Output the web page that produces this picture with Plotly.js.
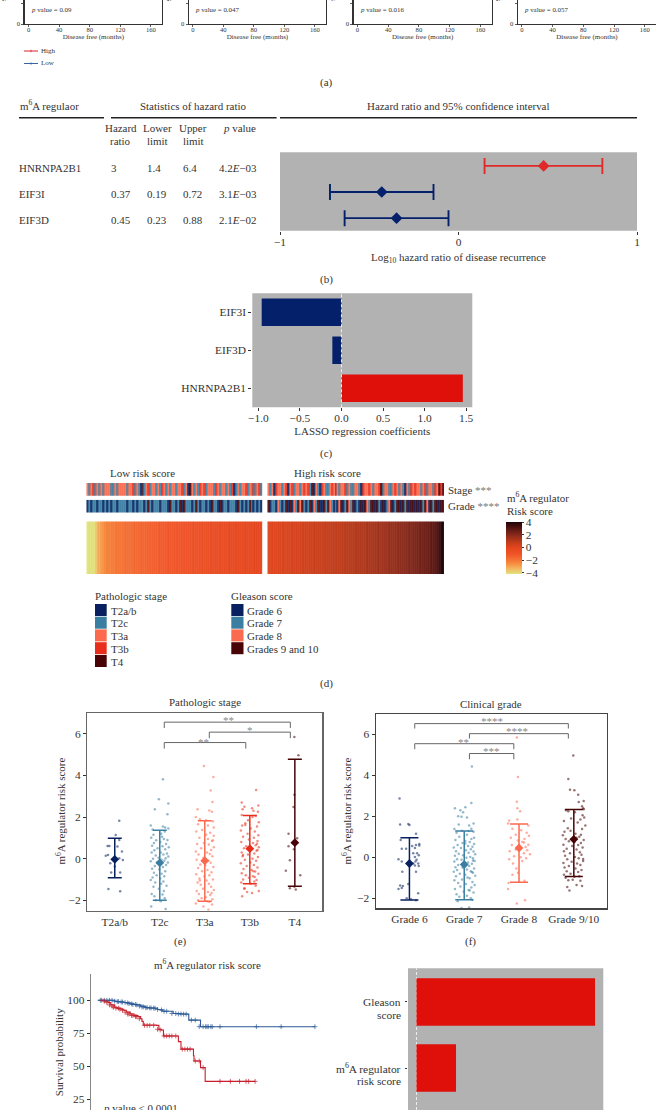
<!DOCTYPE html>
<html><head><meta charset="utf-8">
<script src="https://cdn.plot.ly/plotly-3.0.1.min.js"></script>
<style>html,body{margin:0;padding:0;background:#fff}</style></head>
<body><div id="g" style="width:656px;height:1110px"></div>
<script>
// ---------- panel (a)
const kmTicks=[0,40,80,120,160];
const kmPValues=['0.09','0.047','0.016','0.057'];
const kmHighT=[0,40,80,160], kmHighS=[100,80,60,45];
const kmLowT=[0,40,80,160], kmLowS=[100,92,80,70];
// ---------- panel (b)
const regulators=['EIF3D','EIF3I','HNRNPA2B1'];
const hrLog=[-0.347,-0.43,0.477], hrLow=[-0.638,-0.72,0.146], hrUp=[-0.056,-0.14,0.806];
const tableRows=[['HNRNPA2B1','3','1.4','6.4','4.2<i>E</i>−03'],['EIF3I','0.37','0.19','0.72','3.1<i>E</i>−03'],['EIF3D','0.45','0.23','0.88','2.1<i>E</i>−02']];
// ---------- panel (c)
const lassoGenes=['HNRNPA2B1','EIF3D','EIF3I'];
const lassoCoef=[1.46,-0.11,-0.96];
// ---------- panel (d)
const stageLow='32342323233322323333233423215234233232432323323342315323243423332432332324123233423242342';
const gradeLow='12122122121212212222122121222124212221222142212414222124212212142214122122214212124212121';
const stageHigh='32314332341342332343425132143223431323342322332143343233452332234323213243433234233243545';
const gradeHigh='41221321241413243421241324114243212134124324121414324414214123412441424144141424314244144';
const heatLow=[-4.2,-4.15,-4.1,-4.1,-3.6,-3.1,-2.8,-2.6,-2.4,-2.25,-2.2,-2.05,-2.1,-1.95,-1.9,-1.95,-1.85,-1.8,-1.75,-1.8,-1.7,-1.6,-1.65,-1.55,-1.5,-1.55,-1.45,-1.4,-1.45,-1.35,-1.3,-1.35,-1.25,-1.2,-1.25,-1.15,-1.1,-1.15,-1.05,-1.0,-1.05,-0.95,-0.9,-0.95,-0.85,-0.8,-0.85,-0.75,-0.7,-0.75,-0.65,-0.7,-0.6,-0.55,-0.6,-0.5,-0.55,-0.45,-0.5,-0.4,-0.45,-0.35,-0.4,-0.3,-0.35,-0.25,-0.3,-0.2,-0.25,-0.2,-0.15,-0.2,-0.1,-0.15,-0.1,-0.05,-0.1,-0.05];
const heatHigh=[0.05,0.1,0.05,0.15,0.1,0.2,0.15,0.25,0.2,0.3,0.25,0.35,0.3,0.4,0.35,0.45,0.4,0.5,0.45,0.55,0.5,0.6,0.6,0.65,0.6,0.7,0.7,0.75,0.7,0.8,0.85,0.8,0.9,0.85,0.95,0.95,1.0,1.05,1.0,1.1,1.1,1.15,1.2,1.15,1.25,1.3,1.3,1.35,1.4,1.4,1.5,1.45,1.55,1.6,1.6,1.7,1.75,1.7,1.8,1.85,1.95,1.9,2.0,2.05,2.1,2.15,2.25,2.3,2.35,2.4,2.5,2.55,2.6,2.7,2.8,2.95,3.1,3.3,3.65,4.0];
const heatScale=[[0,'#dfe47e'],[0.1,'#f4b862'],[0.22,'#f6853a'],[0.37,'#f1562a'],[0.51,'#e4451c'],[0.63,'#b93a1a'],[0.76,'#85281a'],[0.88,'#561411'],[1,'#1d0508']];
const stageNames=['T2a/b','T2c','T3a','T3b','T4'];
const stageColors=['#08205f','#3a7ea2','#fb6a4e','#e82d1c','#470306'];
const gradeNames=['Grade 6','Grade 7','Grade 8','Grades 9 and 10'];
const gradeColors=['#08205f','#3a7ea2','#fb6a4e','#470306'];
// ---------- panel (e)
const eCats=['T2a/b','T2c','T3a','T3b','T4'];
const eMean=[-0.03,-0.2,-0.1,0.48,0.77], eUp=[0.98,1.37,1.82,2.07,4.78], eLow=[-0.92,-2.0,-2.05,-1.2,-1.32];
const eX=[
[.10,.02,.10,-.16,-.12,.06,.16,-.15,-.2,0,.1,.18,-.1,0,-.08,.12,-.14,.12],
[.07,-.02,.19,-.11,.17,-.2,.07,.12,.19,-.16,.11,.03,-.14,.05,-.19,.09,.17,-.08,.01,-.13,.14,-.17,.06,.2,-.05,.12,-.12,.02,-.18,.16,.08,-.09,.19,-.03,.13,-.15,.04,.1,-.2,.18,-.06,.02,.14,-.11,.07,-.17,-.01,.12,-.13,.04,-.07,.1,-.16,.01,-.2,.08,-.1,.03,.15,-.14,-.02,.09,-.18,.06,-.12,.11,-.09,.02,-.19,.13],
[-.02,.19,.13,.17,-.16,.1,.16,-.2,-.11,.03,.18,-.15,.07,.2,-.06,-.19,.12,.03,.2,-.12,.07,.16,-.02,-.17,.09,.2,-.08,.14,-.2,.05,.11,-.14,.17,-.03,-.18,.08,.13,-.1,.01,.19,-.15,.06,-.06,.15,-.19,.1,-.01,-.12,.18,.04,-.16,.09,-.09,.14,-.04,.2,-.18,.07,-.13,.12,.02,-.07,.17,-.15,.05,.1,-.2,.16,-.03,.08,.15,-.11,.18],
[.14,-.18,.19,-.12,.05,-.16,.08,.18,-.18,.13,.06,.2,-.1,-.17,.16,.02,-.2,.11,-.05,.19,-.15,.09,-.02,.17,-.19,.07,.13,-.08,.2,-.13,.03,.15,-.18,.1,-.04,-.16,.18,.06,-.11,.14,.01,-.2,.09,-.07,.17,-.14,.04,.12,-.18,.19,-.09,.07,-.02,-.15,.15,.1,-.19,.02,.13,-.12,.2,-.06,.05,-.17,.16,-.1,.08,-.15,-.04,.11,.17,-.12],
[-.01,.08,-.01,-.03,-.14,.05,-.14,-.02,-.11,-.2,.12,-.01,-.11,.02,.03]];
const eY=[
[1.82,1.14,.9,.61,.61,.58,.35,.18,.14,-.06,.02,-.06,-.22,-.38,-.67,-.67,-1.46,-1.57],
[3.82,2.86,2.65,2.37,2.14,1.6,1.55,1.5,1.45,1.4,1.3,1.2,1.15,1.05,1.0,.95,.9,.88,.8,.75,.7,.62,.6,.55,.5,.45,.4,.3,.3,.25,.2,.15,.1,.05,.02,0,-.05,-.1,-.12,-.18,-.2,-.25,-.3,-.35,-.4,-.48,-.52,-.6,-.68,-.72,-.8,-.85,-.9,-.95,-1.02,-1.1,-1.15,-1.2,-1.3,-1.35,-1.45,-1.55,-1.7,-1.72,-1.8,-1.9,-2.0,-2.05,-2.3,-2.42],
[4.45,3.93,3.28,2.72,2.38,2.32,2.25,2.0,1.9,1.85,1.8,1.65,1.6,1.5,1.38,1.3,1.25,1.15,1.1,1.0,.95,.85,.75,.7,.68,.55,.5,.42,.35,.3,.22,.2,.12,.05,-.05,-.1,-.2,-.28,-.32,-.4,-.45,-.55,-.6,-.65,-.75,-.8,-.85,-.95,-1.0,-1.05,-1.15,-1.2,-1.25,-1.35,-1.45,-1.5,-1.55,-1.6,-1.7,-1.75,-1.85,-1.9,-1.95,-2.0,-2.05,-2.08,-2.15,-2.2,-2.3,-2.45,-1.65,-1.05,.88],
[3.3,2.7,2.55,2.5,2.42,2.38,2.3,2.25,2.1,2.05,2.0,1.75,1.7,1.6,1.55,1.45,1.35,1.3,1.2,1.12,1.05,1.0,.92,.85,.8,.75,.65,.6,.55,.5,.45,.38,.3,.25,.2,.12,.08,0,-.05,-.1,-.18,-.22,-.3,-.35,-.42,-.5,-.55,-.62,-.7,-.72,-.8,-.85,-.92,-1.0,-1.02,-1.1,-1.15,-1.2,-1.3,-1.45,-1.55,-1.6,-1.65,-1.8,.72,1.62,-.6,.18,1.85,-.88,.42,-1.42],
[5.85,4.97,3.07,2.48,1.2,.98,.6,.45,-.08,-.58,-.8,-1.35,-1.42,-1.48,.75]];
const eBrackets=[[1.1,3.9,6.56,6.28,6.28],[2.1,3.9,6.08,5.79,5.79],[1.1,2.91,5.58,5.29,5.29]];
const eStars=[['**',2.52,6.67],['*',3.0,6.2],['**',1.96,5.62]];
// ---------- panel (f)
const fCats=['Grade 6','Grade 7','Grade 8','Grade 9/10'];
const fMean=[-0.3,-0.35,0.46,0.88], fUp=[0.96,1.28,1.63,2.33], fLow=[-2.08,-2.07,-1.22,-0.94];
const fX=[
[-.18,-.02,.0,-.17,.12,-.16,.18,.12,.18,.05,.1,-.14,-.06,.14,.07,.17,.1,-.2,.13,-.14,.11,.07,.16,.1,.17,-.13,.12,-.02,-.12,-.17,-.14,.16,-.2,-.05,.03,.12],
[.14,.13,.02,-.17,-.07,-.02,-.11,-.05,.05,.17,-.1,.09,.13,-.18,-.04,.08,.17,-.14,.05,-.09,.18,.13,-.16,.02,.1,-.03,.18,-.12,.07,.15,-.19,-.06,.12,.03,-.15,.17,.08,-.1,.2,-.02,-.17,.11,.04,.16,-.13,-.05,.19,-.18,.07,.01,.14,-.11,.09,-.16,-.03,.18,.05,-.13,.12,-.19,.16,-.08,.02,.2,-.15,.06,.1,-.04,-.18,.15,-.11,.03,.19,-.07,.13,-.17,.08,-.01,.17,-.14,.05,-.09,.12,.15,-.12,.09,-.05,.16,.02,.14,.1],
[-.04,-.02,-.04,-.03,.02,-.03,-.18,-.2,.17,-.12,.04,.14,-.06,.18,-.15,.1,-.02,.06,.17,-.13,.12,.0,-.06,.15,-.17,.09,.2,-.09,.03,.13,-.18,.06,-.11,-.05,-.02,-.12,.1,-.19,-.2,.11,-.04,.09],
[-.01,-.1,-.07,.01,.08,.18,.09,.15,.17,.18,-.14,-.1,.02,.16,.19,-.05,.12,-.18,.07,.21,-.11,.15,-.06,-.17,.03,.13,-.2,.1,.05,-.15,.18,-.09,.01,.13,-.19,.08,-.03,.16,-.13,.05,-.18,.11,-.07,.14,-.16,.02,.09,-.12,.17,-.04,-.19,.06,.12,-.09,-.17,.03,.14,-.13,.08,-.06,-.18,.1,.01,-.15,-.02,.12,-.1,.05,.15,-.12,-.08,.17]];
const fY=[
[2.87,1.63,1.58,1.6,1.15,.85,.65,.6,.58,.55,.45,.42,.42,.2,.2,.1,.02,-.1,-.12,-.2,-.2,-.3,-.3,-.4,-.42,-.7,-.7,-1.3,-1.4,-1.38,-1.5,-1.75,-1.55,-2.0,-2.05,-2.1],
[4.43,2.65,2.45,2.4,2.3,2.2,2.0,1.98,1.95,1.65,1.6,1.55,1.4,1.38,1.3,1.28,1.25,1.2,1.1,1.0,.95,.9,.85,.8,.75,.7,.65,.6,.55,.52,.48,.45,.4,.35,.3,.28,.22,.18,.15,.1,.08,.02,-.02,-.05,-.1,-.12,-.18,-.2,-.25,-.3,-.32,-.38,-.42,-.48,-.5,-.55,-.6,-.62,-.68,-.7,-.75,-.8,-.85,-.9,-.92,-.98,-1.02,-1.08,-1.12,-1.2,-1.25,-1.3,-1.35,-1.42,-1.48,-1.55,-1.6,-1.68,-1.72,-1.8,-1.88,-1.92,-2.0,-2.08,-2.15,-2.45,-2.47,-.15,.68,-.72,-1.62],
[5.85,3.92,2.72,2.4,2.25,1.85,1.8,1.65,1.55,1.4,1.32,1.2,1.1,1.05,.95,.9,.82,.75,.62,.6,.5,.45,.38,.35,.3,.2,.15,.05,0,-.05,-.1,-.18,-.3,-.55,-.75,-.85,-1.15,-1.25,-1.55,-2.1,-2.25,.72],
[4.97,3.83,3.3,3.28,3.05,2.75,2.7,2.5,2.4,2.35,2.3,2.25,2.2,2.05,1.95,1.9,1.85,1.78,1.7,1.55,1.42,1.38,1.3,1.25,1.15,1.1,1.08,1.0,.95,.9,.85,.78,.75,.7,.62,.6,.55,.48,.42,.38,.3,.25,.2,.12,.08,.02,-.05,-.1,-.18,-.22,-.28,-.3,-.38,-.42,-.5,-.55,-.62,-.68,-.72,-.8,-.85,-.92,-.95,-1.0,-1.1,-1.15,-1.12,-1.35,-1.4,-1.45,-1.62,-.08]];
const fBrackets=[[.097,2.9,6.53,6.29,6.29],[1.095,2.9,6.04,5.8,5.8],[.097,1.905,5.55,5.28,5.28],[1.095,1.905,5.07,4.79,4.79]];
const fStars=[['****',1.5,6.65],['****',1.97,6.16],['**',.98,5.64],['***',1.5,5.17]];
// ---------- panel (g)
const survLowT=[0,6,12,13,15,17,20,22,25,28,30,33,36,37,40,44,46,48,50,56,58,64,69,70,77,79,167];
const survLowS=[100,100,100,99.3,99,98.7,98.3,98,97.3,96.8,96.5,95.6,95,94.4,94.2,94,93,92.7,91.7,91.7,90,89.6,89.5,85,85,80,80];
const survHighT=[3,5,8,10,13,15,18,20,22,25,28,31,33,34,35,45,47,49,50.5,61,62,64,71.5,73.6,74,78.7,79,82,82.6,121];
const survHighS=[100,99.3,98.2,96.5,94.7,94,93.2,92.4,91,89.6,88.5,87.6,86,84,81.3,81,78,77.5,73,73,68.7,63,63,58,54,54,49,49,38.6,38.6];
const censLowT=[2,5,7,9,11,13,15,16,18,19,21,23,24,26,27,29,30,32,34,35,37,38,40,41,43,44,46,49,51,53,57,60,62,64,66,68,72,75,78,81,83,84,85,87,88,94,122,141,167];
const censLowS=[100,100,100,100,100,99.3,99,99,98.7,98.7,98.3,98,97.5,97.3,96.8,96.8,96.5,95.6,95,95,94.4,94.4,94.2,94.2,94,94,93,92.7,91.7,91.7,90,90,89.6,89.6,89.5,89.5,85,85,80,80,80,80,80,80,80,80,80,80,80];
const censHighT=[3,5,7,9,11,12,14,16,17,19,21,23,24,26,27,29,30,32,36,38,40,43,46,48,51,53,55,57,60,65,67,69,71,75,78,81,94,102,109,114,116,121];
const censHighS=[100,99.3,98.2,96.5,95.5,94.7,94,94,93.2,92.4,91,89.6,89.6,88.5,88.5,87.6,87.6,86,81,81,81,81,78,77.5,73,73,73,73,73,63,63,63,63,54,54,49,38.6,38.6,38.6,38.6,38.6,38.6];
// ---------- panel (h)
const coxNames=['m<sup>6</sup>A regulator<br>risk score','Gleason<br>score'];
const coxCoef=[0.35,1.58];

const W=656,H=1110,FONT='"Liberation Serif","Times New Roman",serif',INK='#333',FS=10.95,TS=11.4;
const px=(a,b)=>[a/W,b/W], py=(t,b)=>[1-b/H,1-t/H];
const navy='#04206b',red='#df0f0a',gray='#b2b2b2';
const layout={width:W,height:H,margin:{l:0,r:0,t:0,b:0,pad:0},paper_bgcolor:'#fff',plot_bgcolor:'rgba(0,0,0,0)',showlegend:false,
 font:{family:FONT,color:INK,size:FS},annotations:[],shapes:[],hovermode:false};
const traces=[];
let axN=0;
function axes(d,xOpt,yOpt){axN++;const s=axN===1?'':axN;
 const base={showgrid:false,zeroline:false,automargin:false,fixedrange:true};
 layout['xaxis'+s]=Object.assign({},base,{domain:d[0],anchor:'y'+s},xOpt);
 layout['yaxis'+s]=Object.assign({},base,{domain:d[1],anchor:'x'+s},yOpt);
 return {x:'x'+s,y:'y'+s};}
function T(text,x,y,o={}){layout.annotations.push(Object.assign({text,x:x/W,y:1-y/H,xref:'paper',yref:'paper',xanchor:'left',yanchor:'middle',showarrow:false,align:'left',borderpad:0,borderwidth:0,font:{size:FS,color:INK,family:FONT}},o));}
function C(text,x,y,size=FS,extra={}){T(text,x,y,Object.assign({xanchor:'center',align:'center',font:{size,color:INK,family:FONT}},extra));}
function R(x0,y0,x1,y1,fill,line){layout.shapes.push({type:'rect',xref:'paper',yref:'paper',x0:x0/W,x1:x1/W,y0:1-y0/H,y1:1-y1/H,fillcolor:fill,line:line||{width:0},layer:'below'});}
function L(x0,y0,x1,y1,color,width){layout.shapes.push({type:'line',xref:'paper',yref:'paper',x0:x0/W,x1:x1/W,y0:1-y0/H,y1:1-y1/H,line:{color,width},layer:'below'});}

// (a)
[[24.7,162],[189,326],[353.6,491.6],[518,656]].forEach((p,i)=>{
 const a=axes([px(p[0],p[1]),py(0,24)],
  {range:[-5,174.6],tickvals:kmTicks,ticks:'outside',ticklen:2,tickwidth:.8,tickcolor:INK,tickfont:{size:6.6,color:INK},ticklabelstandoff:-3,showline:true,mirror:true,linecolor:'#333',linewidth:1.3,title:{text:'Disease free (months)',font:{size:7,color:INK},standoff:1}},
  {range:[0,29.4],tickvals:[0,25],ticks:'outside',ticklen:2,tickwidth:.8,tickcolor:INK,tickfont:{size:6.6,color:INK},showline:true,mirror:true,linecolor:'#333',linewidth:1.3});
 traces.push({x:kmHighT,y:kmHighS,xaxis:a.x,yaxis:a.y,mode:'lines',line:{color:'#d8232a',width:1,shape:'hv'}});
 traces.push({x:kmLowT,y:kmLowS,xaxis:a.x,yaxis:a.y,mode:'lines',line:{color:'#3a64a8',width:1,shape:'hv'}});
 T('<i>p</i> value = '+kmPValues[i],p[0]+6.3,9.3,{font:{size:6.9,color:INK,family:FONT}});
 T('Survival probability',p[0]-20.5,-27,{xanchor:'center',textangle:-90,font:{size:7,color:INK,family:FONT}});
});
L(24,51,38,51,'#d8232a',1);L(24,63.5,38,63.5,'#3a64a8',1);
L(31,49.8,31,52.2,'#d8232a',.8);L(31,62.3,31,64.7,'#3a64a8',.8);
T('High',41,51,{font:{size:7,color:INK,family:FONT}});T('Low',41,63.5,{font:{size:7,color:INK,family:FONT}});
C('(a)',326,82.5,11);

// (b)
L(19,117.7,104,117.7,'#222',1.4);L(111,117.7,276.6,117.7,'#222',1.4);L(280,117.7,637,117.7,'#222',1.4);
T('m<sup>6</sup>A regulaor',19.5,105);
C('Statistics of hazard ratio',193.7,105.7);
C('Hazard ratio and 95% confidence interval',458.6,105.7);
[['Hazard','ratio',120.5],['Lower','limit',157],['Upper','limit',193]].forEach(c=>{C(c[0],c[2],128.3);C(c[1],c[2],141.3);});
C('<i>p</i> value',239,128.3);
const colX=[19,111,147,183,219],rowY=[167.7,193.7,220];
tableRows.forEach((r,i)=>r.forEach((t,j)=>T(t,colX[j],rowY[i])));
R(280,152.3,637,230.7,gray);
{const a=axes([px(280,637),py(152.3,230.7)],
  {range:[-1,1],tickvals:[-1,0,1],ticks:'outside',ticklen:3,tickwidth:1,tickcolor:INK,tickfont:{size:TS,color:INK},ticklabelstandoff:-2,
   title:{text:'Log<sub>10</sub> hazard ratio of disease recurrence',font:{size:FS,color:INK},standoff:5}},
  {type:'category',categoryarray:regulators,range:[-0.48,2.52],showticklabels:false,ticks:''});
 regulators.forEach((g,i)=>{const col=hrLog[i]>0?'#e02a2a':navy;
  traces.push({x:[hrLog[i]],y:[g],xaxis:a.x,yaxis:a.y,type:'scatter',mode:'markers',marker:{symbol:'diamond',size:9,color:col},
   error_x:{type:'data',symmetric:false,array:[hrUp[i]-hrLog[i]],arrayminus:[hrLog[i]-hrLow[i]],color:col,thickness:1.9,width:8}});});}
C('(b)',326,279,11);

// (c)
R(252.3,293.3,472.3,407.3,gray);
{const a=axes([px(252.3,472.3),py(293.3,407.3)],
  {range:[-1.073,1.574],tickvals:[-1,-.5,0,.5,1,1.5],ticktext:['−1.0','−0.5','0.0','0.5','1.0','1.5'],ticks:'outside',ticklen:3,tickwidth:1,tickcolor:INK,tickfont:{size:TS,color:INK},ticklabelstandoff:-3,
   title:{text:'LASSO regression coefficients',font:{size:FS,color:INK},standoff:4}},
  {type:'category',categoryarray:lassoGenes,range:[-0.5,2.5],ticks:'outside',ticklen:3,tickwidth:1,tickcolor:INK,tickfont:{size:TS,color:INK}});
 traces.push({type:'bar',orientation:'h',x:lassoCoef,y:lassoGenes,xaxis:a.x,yaxis:a.y,width:.72,marker:{color:lassoCoef.map(v=>v>0?red:navy),line:{width:0}}});
 layout.shapes.push({type:'line',xref:a.x,yref:a.y+' domain',x0:0,x1:0,y0:0,y1:1,line:{color:'#eee',width:1,dash:'3px,2px'},layer:'above'});}
C('(c)',326,453,11);

// (d)
const stepped=(cols)=>{const n=cols.length,o=[];cols.forEach((c,i)=>{o.push([i/n,c]);o.push([(i+1)/n,c]);});return o;};
const digits=s=>s.split('').map(Number);
function strip(str,cols,x0,x1,y0,y1){const a=axes([px(x0,x1),py(y0,y1)],{visible:false},{visible:false});
 traces.push({type:'heatmap',z:[digits(str)],xaxis:a.x,yaxis:a.y,colorscale:stepped(cols),zmin:.5,zmax:cols.length+.5,showscale:false,xgap:.15});}
strip(stageLow,stageColors,86.3,262.7,483,495.7);
strip(stageHigh,stageColors,267.3,444,483,495.7);
strip(gradeLow,gradeColors,86.3,262.7,499.7,512.7);
strip(gradeHigh,gradeColors,267.3,444,499.7,512.7);
function heat(vals,x0,x1,scale){const a=axes([px(x0,x1),py(521.3,574)],{visible:false},{visible:false});
 const t={type:'heatmap',z:[vals],xaxis:a.x,yaxis:a.y,colorscale:heatScale,zmin:-4.2,zmax:4,showscale:!!scale,xgap:.08};
 if(scale)t.colorbar={x:505.7/W,xanchor:'left',xpad:0,ypad:0,y:1-522/H,yanchor:'top',len:52,lenmode:'pixels',thickness:16,thicknessmode:'pixels',outlinewidth:0,tickvals:[-4,-2,0,2,4],ticks:'outside',ticklen:2,tickcolor:INK,tickfont:{size:TS,color:INK,family:FONT}};
 traces.push(t);}
heat(heatLow,86.3,262.7,false);heat(heatHigh,267.3,444,true);
C('Low risk score',142.7,473);C('High risk score',327,473);
T('Stage <span style="color:#777">***</span>',448,490);T('Grade <span style="color:#777">****</span>',448,506);
T('m<sup>6</sup>A regulator',506.7,497.5);T('Risk score',506.7,510.7);
T('Pathologic stage',95,596);T('Gleason score',231.3,596);
const rowsTop=[604,616.7,629.4,642.2,655];
stageNames.forEach((n,i)=>{R(95,rowsTop[i],106.7,rowsTop[i]+12,stageColors[i]);T(n,110.7,rowsTop[i]+6.5);});
gradeNames.forEach((n,i)=>{R(231.3,rowsTop[i],243.5,rowsTop[i]+12,gradeColors[i]);T(n,247.3,rowsTop[i]+6.5);});
C('(d)',326,683,11);

// (e)(f)
const groupCols=[stageColors,[stageColors[0],stageColors[1],stageColors[2],stageColors[4]]];
function dots(dom,xr,yr,cats,mean,up,low,X,Y,brackets,stars,cols,title,tx,ty,ytx,capw,frame){
 const a=axes(dom,{range:xr,tickvals:cats.map((c,i)=>i),ticktext:cats,ticks:'',tickfont:{size:TS,color:INK},showline:true,mirror:true,linecolor:frame,linewidth:1.4},
  {range:yr,tickvals:[-2,0,2,4,6],ticktext:['−2','0','2','4','6'],ticks:'outside',ticklen:3,tickwidth:1,tickcolor:INK,tickfont:{size:TS,color:INK},showline:true,mirror:true,linecolor:frame,linewidth:1.4});
 cats.forEach((c,i)=>{
  traces.push({x:X[i].map(v=>v+i),y:Y[i],xaxis:a.x,yaxis:a.y,mode:'markers',marker:{size:2.5,color:cols[i],opacity:.55,line:{width:0}}});
  traces.push({x:[i],y:[mean[i]],xaxis:a.x,yaxis:a.y,mode:'markers',marker:{symbol:'diamond',size:6.8,color:cols[i]},
   error_y:{type:'data',symmetric:false,array:[up[i]-mean[i]],arrayminus:[mean[i]-low[i]],color:cols[i],thickness:1.5,width:capw}});
 });
 brackets.forEach(b=>traces.push({x:[b[0],b[0],b[1],b[1]],y:[b[3],b[2],b[2],b[4]],xaxis:a.x,yaxis:a.y,mode:'lines',line:{color:'#666',width:1}}));
 stars.forEach(s=>layout.annotations.push({text:s[0],x:s[1],y:s[2],xref:a.x,yref:a.y,showarrow:false,yanchor:'middle',borderpad:0,borderwidth:0,font:{size:11,color:'#888',family:FONT}}));
 C(title,tx,ty,FS);
 T('m<sup>6</sup>A regulator risk score',ytx,811.5,{xanchor:'center',textangle:-90});
}
dots([px(87.3,322.3),py(713,910.7)],[-0.61,4.61],[-2.5,7],eCats,eMean,eUp,eLow,eX,eY,eBrackets,eStars,groupCols[0],'Pathologic stage',205,702,60,7,'#666');
dots([px(376,606.7),py(714,908.3)],[-0.61,3.6],[-2.49,7],fCats,fMean,fUp,fLow,fX,fY,fBrackets,fStars,groupCols[1],'Clinical grade',491,704,346,9,'#444');
C('(e)',180,941,11);C('(f)',470,941,11);

// (g)
{const a=axes([px(91,330),py(974,1110)],{range:[-5.2,178.6],visible:false},
  {range:[16.9,119.9],tickvals:[25,50,75,100],ticks:'outside',ticklen:3,tickwidth:1,tickcolor:INK,tickfont:{size:TS,color:INK},showline:true,linecolor:'#888',linewidth:1.3});
 const blue='#2d5a98',rd='#c6202c';
 traces.push({x:survLowT,y:survLowS,xaxis:a.x,yaxis:a.y,mode:'lines',line:{shape:'hv',color:blue,width:1.1}});
 traces.push({x:survHighT,y:survHighS,xaxis:a.x,yaxis:a.y,mode:'lines',line:{shape:'hv',color:rd,width:1.1}});
 traces.push({x:censLowT,y:censLowS,xaxis:a.x,yaxis:a.y,mode:'markers',marker:{symbol:'cross-thin',size:3.5,line:{color:blue,width:.7}}});
 traces.push({x:censHighT,y:censHighS,xaxis:a.x,yaxis:a.y,mode:'markers',marker:{symbol:'cross-thin',size:3.5,line:{color:rd,width:.7}}});}
C('m<sup>6</sup>A regulator risk score',207.7,964);
T('Survival probability',58.5,1052.7,{xanchor:'center',textangle:-90});
T('<i>p</i> value < 0.0001',103.3,1107.5);

// (h)
R(408,968.3,603.3,1110,gray);
{const a=axes([px(408,603.3),py(968.3,1110)],{range:[-0.075,1.653],visible:false},
  {type:'category',categoryarray:coxNames,range:[-0.636,1.51],ticks:'outside',ticklen:2,tickwidth:1,tickcolor:INK,showticklabels:false});
 traces.push({type:'bar',orientation:'h',x:coxCoef,y:coxNames,xaxis:a.x,yaxis:a.y,width:.717,marker:{color:red,line:{width:0}}});
 layout.shapes.push({type:'line',xref:a.x,yref:a.y+' domain',x0:0,x1:0,y0:0,y1:1,line:{color:'#eee',width:1,dash:'3px,2px'},layer:'below'});
 const coxY=[1068,1002];
 coxNames.forEach((n,i)=>n.split('<br>').forEach((ln,j)=>T(ln,401,coxY[i]+j*13,{xanchor:'right',align:'right',font:{size:TS,color:INK,family:FONT}})));}

Plotly.newPlot('g',traces,layout,{staticPlot:true,displayModeBar:false});
</script></body></html>
